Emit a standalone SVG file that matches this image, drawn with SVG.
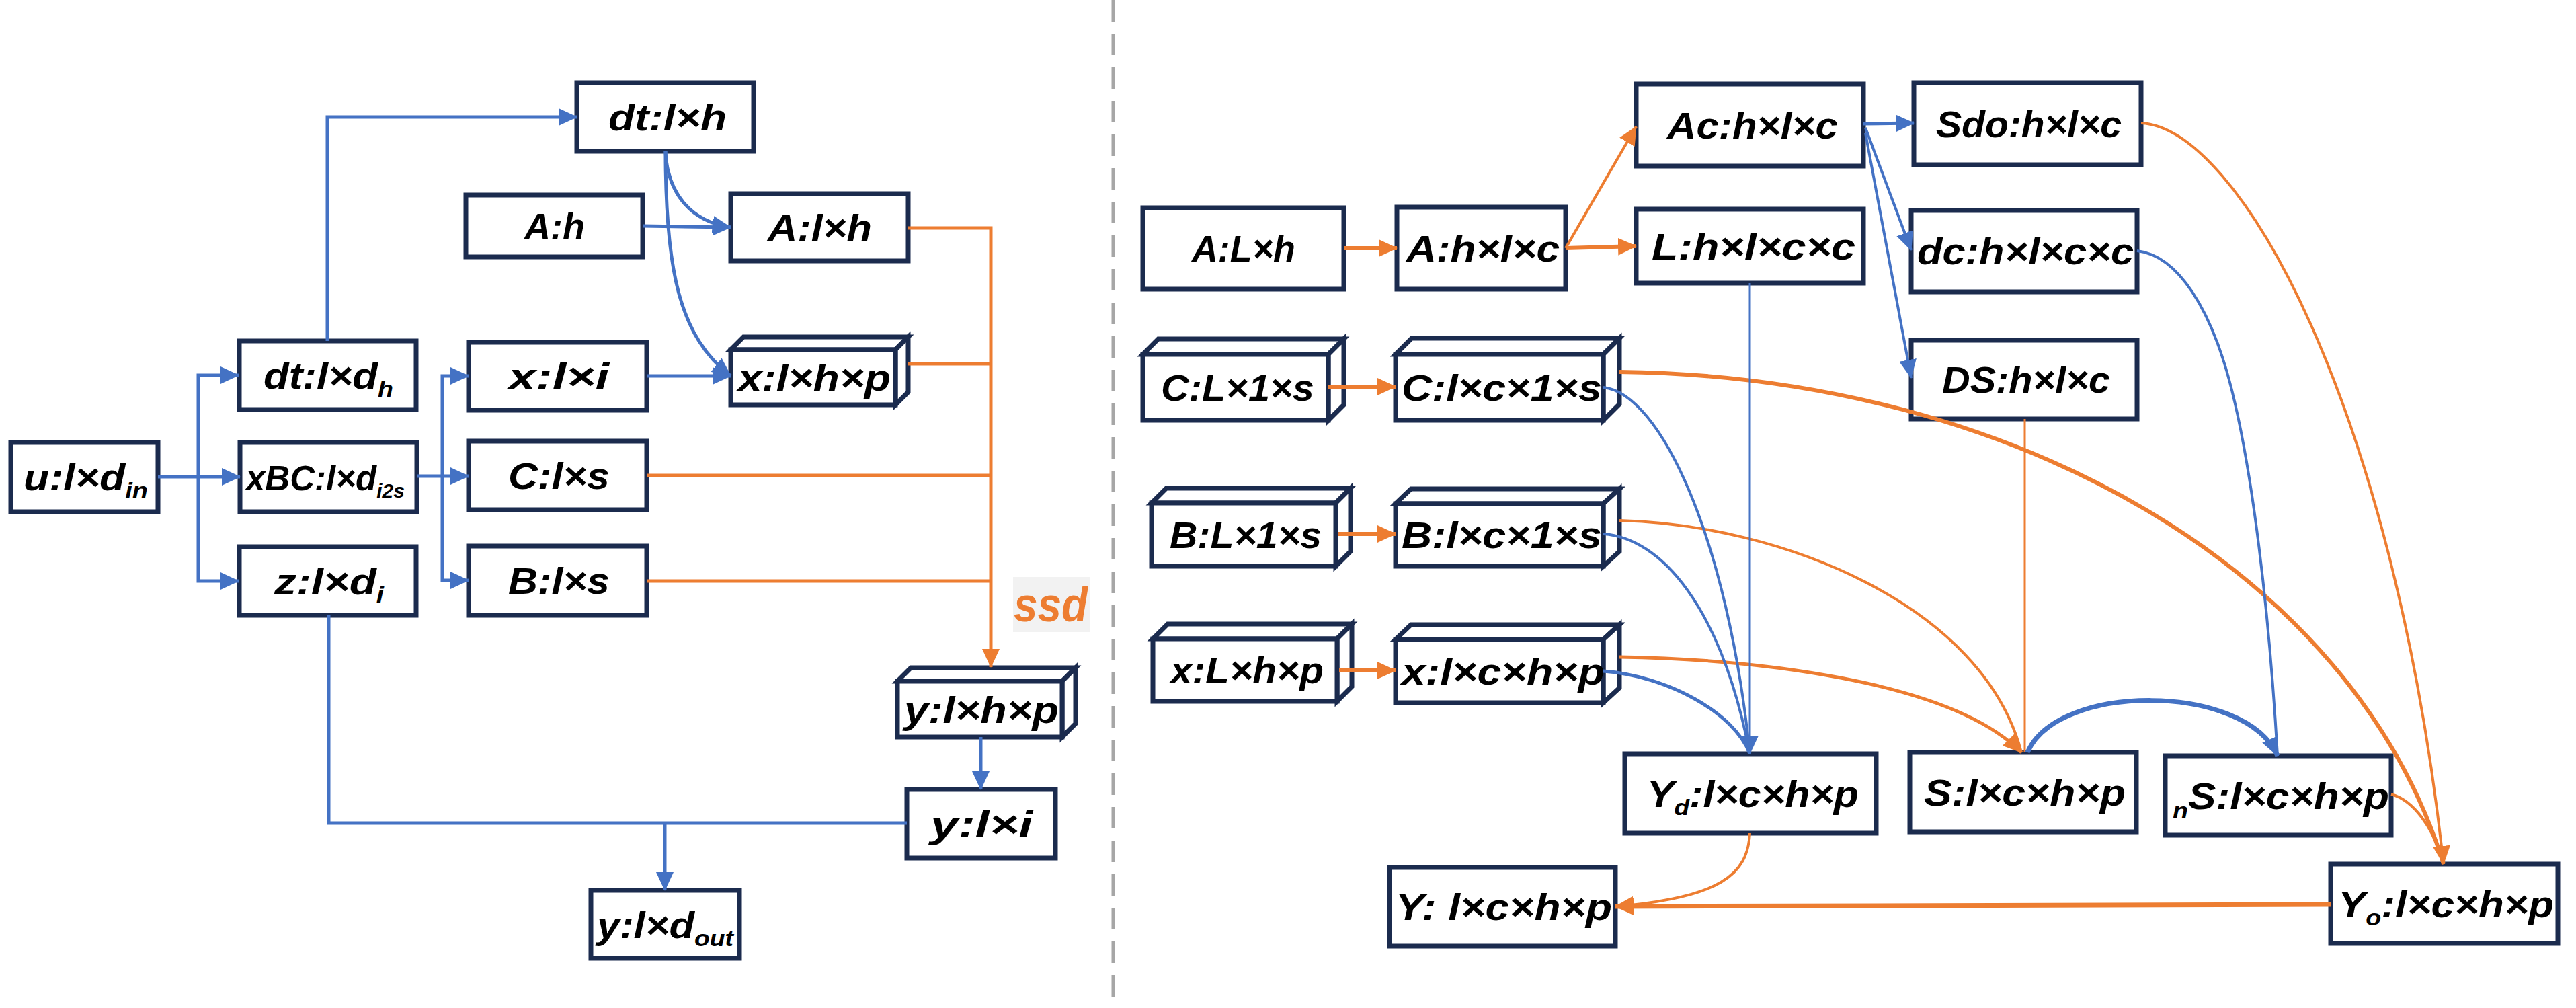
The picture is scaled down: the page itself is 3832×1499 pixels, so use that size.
<svg xmlns="http://www.w3.org/2000/svg" width="3832" height="1499" viewBox="0 0 3832 1499">
<defs>
<style>
.box{fill:#fff;stroke:#1b2b4e;stroke-width:7;stroke-linejoin:miter}
.t{font-family:"Liberation Sans",Arial,sans-serif;font-weight:bold;font-style:italic;font-size:56px;fill:#000}
.sub{font-size:34px}
.b{fill:none;stroke:#4472c4}
.o{fill:none;stroke:#ed7d31}
</style>
<marker id="ab" viewBox="0 0 28 26" refX="27" refY="13" markerWidth="28" markerHeight="26" markerUnits="userSpaceOnUse" orient="auto"><path d="M0,0 L28,13 L0,26 z" fill="#4472c4"/></marker>
<marker id="ao" viewBox="0 0 28 26" refX="27" refY="13" markerWidth="28" markerHeight="26" markerUnits="userSpaceOnUse" orient="auto"><path d="M0,0 L28,13 L0,26 z" fill="#ed7d31"/></marker>
</defs>
<rect width="3832" height="1499" fill="#fff"/>
<line x1="1656" y1="0" x2="1656" y2="1499" stroke="#a6a6a6" stroke-width="5" stroke-dasharray="32 18"/>

<g id="nodes-left">
<g id="n-u"><rect class="box" x="16" y="658" width="219" height="103"/><text class="t" x="35" y="729" textLength="185" lengthAdjust="spacingAndGlyphs">u:l×d<tspan class="sub" dy="12">in</tspan></text></g>
<g id="n-dt-dh"><rect class="box" x="356" y="507" width="263" height="102"/><text class="t" x="392" y="578" textLength="193" lengthAdjust="spacingAndGlyphs">dt:l×d<tspan class="sub" dy="12">h</tspan></text></g>
<g id="n-xbc"><rect class="box" x="357" y="658" width="263" height="103"/><text class="t" x="366" y="729" style="font-size:51px">xBC:l×d<tspan style="font-size:30px" dy="11">i2s</tspan></text></g>
<g id="n-z"><rect class="box" x="356" y="813" width="263" height="102"/><text class="t" x="408" y="884" textLength="163" lengthAdjust="spacingAndGlyphs">z:l×d<tspan class="sub" dy="12">i</tspan></text></g>
<g id="n-dt-h"><rect class="box" x="858" y="123" width="263" height="102"/><text class="t" x="905" y="194" textLength="176" lengthAdjust="spacingAndGlyphs">dt:l×h</text></g>
<g id="n-a-h"><rect class="box" x="693" y="290" width="263" height="92"/><text class="t" x="780" y="356" textLength="90" lengthAdjust="spacingAndGlyphs">A:h</text></g>
<g id="n-a-lh"><rect class="box" x="1087" y="288" width="264" height="100"/><text class="t" x="1142" y="358" textLength="155" lengthAdjust="spacingAndGlyphs">A:l×h</text></g>
<g id="n-x-li"><rect class="box" x="697" y="509" width="265" height="101"/><text class="t" x="756" y="579" textLength="150" lengthAdjust="spacingAndGlyphs">x:l×i</text></g>
<g id="n-x-lhp"><path class="box" d="M1087,520 L1106,501 L1351,501 L1332,520 Z"/><path class="box" d="M1332,520 L1351,501 L1351,583 L1332,602 Z"/><rect class="box" x="1087" y="520" width="245" height="82"/><text class="t" x="1098" y="581" textLength="227" lengthAdjust="spacingAndGlyphs">x:l×h×p</text></g>
<g id="n-c-ls"><rect class="box" x="697" y="656" width="265" height="102"/><text class="t" x="756" y="727" textLength="151" lengthAdjust="spacingAndGlyphs">C:l×s</text></g>
<g id="n-b-ls"><rect class="box" x="697" y="812" width="265" height="103"/><text class="t" x="756" y="883" textLength="151" lengthAdjust="spacingAndGlyphs">B:l×s</text></g>
<g id="n-y-lhp"><path class="box" d="M1335,1013 L1355,993 L1600,993 L1580,1013 Z"/><path class="box" d="M1580,1013 L1600,993 L1600,1076 L1580,1096 Z"/><rect class="box" x="1335" y="1013" width="245" height="83"/><text class="t" x="1345" y="1075" textLength="230" lengthAdjust="spacingAndGlyphs">y:l×h×p</text></g>
<g id="n-y-li"><rect class="box" x="1349" y="1174" width="221" height="102"/><text class="t" x="1384" y="1245" textLength="152" lengthAdjust="spacingAndGlyphs">y:l×i</text></g>
<g id="n-y-dout"><rect class="box" x="879" y="1324" width="221" height="101"/><text class="t" x="888" y="1395" textLength="203" lengthAdjust="spacingAndGlyphs">y:l×d<tspan class="sub" dy="12">out</tspan></text></g>
<g id="n-ssd"><rect x="1507" y="858" width="115" height="82" fill="#f2f2f2"/><text x="1508" y="924" textLength="110" lengthAdjust="spacingAndGlyphs" style="font-family:'Liberation Sans',Arial,sans-serif;font-weight:bold;font-style:italic;font-size:72px;fill:#ed7d31">ssd</text></g>
</g>

<g id="nodes-right">
<g id="n-a-Lh"><rect class="box" x="1700" y="309" width="299" height="121"/><text class="t" x="1773" y="389" textLength="154" lengthAdjust="spacingAndGlyphs">A:L×h</text></g>
<g id="n-a-hlc"><rect class="box" x="2078" y="308" width="251" height="122"/><text class="t" x="2092" y="389" textLength="228" lengthAdjust="spacingAndGlyphs">A:h×l×c</text></g>
<g id="n-ac"><rect class="box" x="2434" y="125" width="338" height="122"/><text class="t" x="2480" y="206" textLength="254" lengthAdjust="spacingAndGlyphs">Ac:h×l×c</text></g>
<g id="n-l"><rect class="box" x="2434" y="311" width="338" height="110"/><text class="t" x="2457" y="386" textLength="303" lengthAdjust="spacingAndGlyphs">L:h×l×c×c</text></g>
<g id="n-sdo"><rect class="box" x="2847" y="123" width="338" height="122"/><text class="t" x="2880" y="204" textLength="276" lengthAdjust="spacingAndGlyphs">Sdo:h×l×c</text></g>
<g id="n-dc"><rect class="box" x="2843" y="313" width="336" height="121"/><text class="t" x="2852" y="393" textLength="322" lengthAdjust="spacingAndGlyphs">dc:h×l×c×c</text></g>
<g id="n-ds"><rect class="box" x="2843" y="506" width="336" height="117"/><text class="t" x="2889" y="584" textLength="250" lengthAdjust="spacingAndGlyphs">DS:h×l×c</text></g>
<g id="n-c-L1s"><path class="box" d="M1700,527 L1723,504 L1999,504 L1976,527 Z"/><path class="box" d="M1976,527 L1999,504 L1999,602 L1976,625 Z"/><rect class="box" x="1700" y="527" width="276" height="98"/><text class="t" x="1727" y="596" textLength="228" lengthAdjust="spacingAndGlyphs">C:L×1×s</text></g>
<g id="n-c-lc1s"><path class="box" d="M2076,527 L2100,503 L2409,503 L2385,527 Z"/><path class="box" d="M2385,527 L2409,503 L2409,601 L2385,625 Z"/><rect class="box" x="2076" y="527" width="309" height="98"/><text class="t" x="2085" y="596" textLength="298" lengthAdjust="spacingAndGlyphs">C:l×c×1×s</text></g>
<g id="n-b-L1s"><path class="box" d="M1713,748 L1735,726 L2009,726 L1987,748 Z"/><path class="box" d="M1987,748 L2009,726 L2009,820 L1987,842 Z"/><rect class="box" x="1713" y="748" width="274" height="94"/><text class="t" x="1740" y="815" textLength="226" lengthAdjust="spacingAndGlyphs">B:L×1×s</text></g>
<g id="n-b-lc1s"><path class="box" d="M2076,749 L2099,727 L2409,727 L2385,749 Z"/><path class="box" d="M2385,749 L2409,727 L2409,820 L2385,842 Z"/><rect class="box" x="2076" y="749" width="309" height="93"/><text class="t" x="2085" y="815" textLength="298" lengthAdjust="spacingAndGlyphs">B:l×c×1×s</text></g>
<g id="n-x-Lhp"><path class="box" d="M1715,950 L1737,928 L2011,928 L1989,950 Z"/><path class="box" d="M1989,950 L2011,928 L2011,1021 L1989,1043 Z"/><rect class="box" x="1715" y="950" width="274" height="93"/><text class="t" x="1741" y="1016" textLength="228" lengthAdjust="spacingAndGlyphs">x:L×h×p</text></g>
<g id="n-x-lchp"><path class="box" d="M2076,951 L2099,929 L2409,929 L2385,951 Z"/><path class="box" d="M2385,951 L2409,929 L2409,1023 L2385,1045 Z"/><rect class="box" x="2076" y="951" width="309" height="94"/><text class="t" x="2085" y="1018" textLength="302" lengthAdjust="spacingAndGlyphs">x:l×c×h×p</text></g>
<g id="n-yd"><rect class="box" x="2417" y="1121" width="374" height="118"/><text class="t" x="2450" y="1200" textLength="315" lengthAdjust="spacingAndGlyphs">Y<tspan class="sub" dy="12">d</tspan><tspan dy="-12">:l×c×h×p</tspan></text></g>
<g id="n-s"><rect class="box" x="2841" y="1119" width="337" height="118"/><text class="t" x="2862" y="1198" textLength="300" lengthAdjust="spacingAndGlyphs">S:l×c×h×p</text></g>
<g id="n-ns"><rect class="box" x="3221" y="1124" width="336" height="118"/><text class="t" x="3232" y="1203" textLength="322" lengthAdjust="spacingAndGlyphs"><tspan class="sub" dy="14">n</tspan><tspan dy="-14">S:l×c×h×p</tspan></text></g>
<g id="n-y"><rect class="box" x="2067" y="1290" width="336" height="117"/><text class="t" x="2076" y="1368" textLength="322" lengthAdjust="spacingAndGlyphs">Y: l×c×h×p</text></g>
<g id="n-yo"><rect class="box" x="3467" y="1285" width="338" height="118"/><text class="t" x="3478" y="1364" textLength="321" lengthAdjust="spacingAndGlyphs">Y<tspan class="sub" dy="12">o</tspan><tspan dy="-12">:l×c×h×p</tspan></text></g>
</g>

<g id="connectors">
<path class="b" stroke-width="5" d="M235,709 H357" marker-end="url(#ab)"/>
<path class="b" stroke-width="5" d="M295,709 V558 H355" marker-end="url(#ab)"/>
<path class="b" stroke-width="5" d="M295,709 V864 H355" marker-end="url(#ab)"/>
<path class="b" stroke-width="5" d="M620,708 H697" marker-end="url(#ab)"/>
<path class="b" stroke-width="5" d="M658,708 V559 H697" marker-end="url(#ab)"/>
<path class="b" stroke-width="5" d="M658,708 V863 H697" marker-end="url(#ab)"/>
<path class="b" stroke-width="5" d="M487,507 V174 H858" marker-end="url(#ab)"/>
<path class="b" stroke-width="5" d="M956,336 L1087,338" marker-end="url(#ab)"/>
<path class="b" stroke-width="5" d="M990,225 C993,290 1030,330 1087,338" marker-end="url(#ab)"/>
<path class="b" stroke-width="5" d="M990,225 C990,400 1010,500 1087,559" marker-end="url(#ab)"/>
<path class="b" stroke-width="5" d="M962,559 H1087" marker-end="url(#ab)"/>
<path class="b" stroke-width="5" d="M1459,1096 V1174" marker-end="url(#ab)"/>
<path class="b" stroke-width="5" d="M489,915 V1224 H1349"/>
<path class="b" stroke-width="5" d="M989,1224 V1324" marker-end="url(#ab)"/>
<path class="o" stroke-width="5" d="M1351,339 H1474 V992" marker-end="url(#ao)"/>
<path class="o" stroke-width="5" d="M1351,541 H1474"/>
<path class="o" stroke-width="5" d="M962,707 H1474"/>
<path class="o" stroke-width="5" d="M962,864 H1474"/>
<path class="o" stroke-width="6" d="M1999,369 H2078" marker-end="url(#ao)"/>
<path class="o" stroke-width="6" d="M1976,575 H2076" marker-end="url(#ao)"/>
<path class="o" stroke-width="6" d="M1990,794 H2076" marker-end="url(#ao)"/>
<path class="o" stroke-width="6" d="M1992,997 H2076" marker-end="url(#ao)"/>
<path class="o" stroke-width="4" d="M2329,369 L2434,188" marker-end="url(#ao)"/>
<path class="o" stroke-width="6" d="M2329,369 L2434,366" marker-end="url(#ao)"/>
<path class="o" stroke-width="6" d="M2409,553 C3000,560 3500,850 3635,1285"/>
<path class="o" stroke-width="4" d="M3557,1181 C3590,1190 3620,1230 3635,1285"/>
<path class="o" stroke-width="4" d="M3185,183 C3330,190 3560,600 3635,1285" marker-end="url(#ao)"/>
<path class="o" stroke-width="4" d="M2409,774 C2650,780 2950,900 3007,1119"/>
<path class="o" stroke-width="3" d="M3012,623 V1119"/>
<path class="o" stroke-width="5" d="M2409,977 C2600,980 2900,1010 3007,1119" marker-end="url(#ao)"/>
<path class="o" stroke-width="4" d="M2603,1239 C2600,1300 2560,1335 2403,1348" marker-end="url(#ao)"/>
<path class="o" stroke-width="7" d="M3467,1345 L2403,1348" marker-end="url(#ao)"/>
<path class="b" stroke-width="5" d="M2772,184 L2847,183" marker-end="url(#ab)"/>
<path class="b" stroke-width="4" d="M2775,190 L2843,372" marker-end="url(#ab)"/>
<path class="b" stroke-width="4" d="M2775,198 L2843,562" marker-end="url(#ab)"/>
<path class="b" stroke-width="4" d="M3179,373 C3240,380 3290,460 3320,580 S3375,900 3388,1124"/>
<path class="b" stroke-width="7" d="M3016,1119 C3060,1015 3340,1015 3388,1124" marker-end="url(#ab)"/>
<path class="b" stroke-width="4" d="M2385,576 C2470,585 2570,800 2603,1121"/>
<path class="b" stroke-width="4" d="M2385,794 C2470,800 2560,900 2603,1121"/>
<path class="b" stroke-width="5" d="M2385,998 C2480,1005 2580,1060 2603,1121"/>
<path class="b" stroke-width="3" d="M2603,421 V1121" marker-end="url(#ab)"/>
</g>
</svg>
